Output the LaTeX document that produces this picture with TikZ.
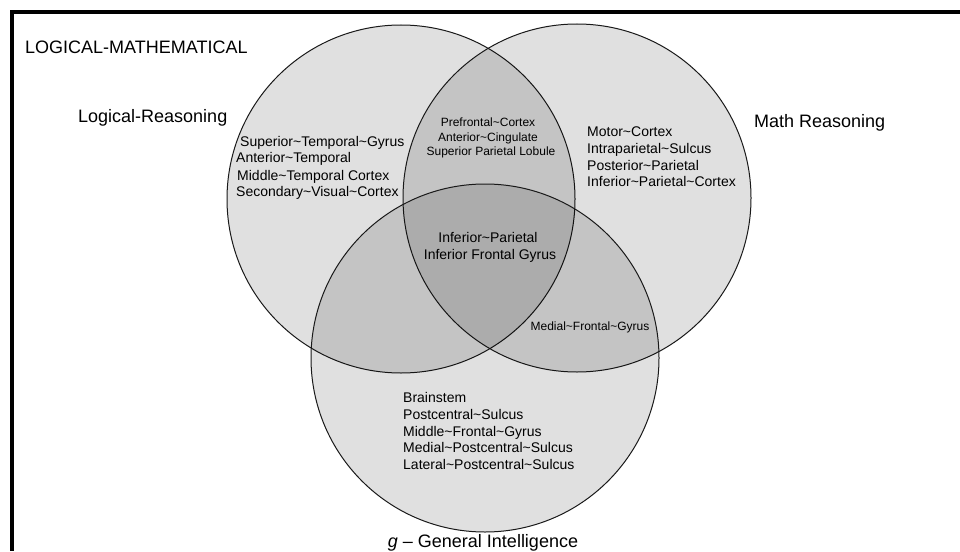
\documentclass[tikz,border=0pt]{standalone}
\usepackage{fontspec}
\setmainfont{Liberation Sans}
\newcommand{\tildech}{\textasciitilde}
\begin{document}
\begin{tikzpicture}[x=1pt,y=-1pt,
  venn/.style={circle,draw=black!90,line width=1pt,fill=black,fill opacity=0.12,
    minimum size=348pt,inner sep=0pt},
  big/.style={font=\fontsize{18}{21}\selectfont,inner sep=0pt},
  mid/.style={font=\fontsize{14}{16}\selectfont,inner sep=0pt},
  small/.style={font=\fontsize{12}{14}\selectfont,inner sep=0pt},
  frame/.style={line width=4pt}]
\useasboundingbox (0,0) rectangle (960,551);
\fill[white] (0,0) rectangle (960,551);

% outer frame: top and left edges only
\coordinate (ftr) at (960,12);
\coordinate (ftl) at (11.5,12);
\coordinate (fbl) at (11.5,551);
\draw[frame] (ftr) -- (ftl) -- (fbl);

% the three sets
\node[venn] (logic) at (401,199) {};
\node[venn] (math)  at (577,198) {};
\node[venn] (gint)  at (485,358) {};

% titles
\node[big,anchor=base west] (title) at (25,54) {LOGICAL-MATHEMATICAL};
\node[big,anchor=base west] (lrlab) at (78,122) {Logical-Reasoning};
\node[big,anchor=base west] (mrlab) at (754,127) {Math Reasoning};
\node[big,anchor=base] (glab) at (483,547.5) {\textit{g} -- General Intelligence};

% logical reasoning only
\node[mid,anchor=base west] (lr1) at (240,146) {Superior\tildech Temporal\tildech Gyrus};
\node[mid,anchor=base west] (lr2) at (236,162) {Anterior\tildech Temporal};
\node[mid,anchor=base west] (lr3) at (237,180) {Middle\tildech Temporal Cortex};
\node[mid,anchor=base west] (lr4) at (236,196) {Secondary\tildech Visual\tildech Cortex};

% logical and math reasoning
\node[small,anchor=base] (lm1) at (488,126.5) {Prefrontal\tildech Cortex};
\node[small,anchor=base] (lm2) at (488,141) {Anterior\tildech Cingulate};
\node[small,anchor=base] (lm3) at (491,155.5) {Superior Parietal Lobule};

% math reasoning only
\node[mid,anchor=base west] (mr1) at (587,136) {Motor\tildech Cortex};
\node[mid,anchor=base west] (mr2) at (587,153) {Intraparietal\tildech Sulcus};
\node[mid,anchor=base west] (mr3) at (587,170) {Posterior\tildech Parietal};
\node[mid,anchor=base west] (mr4) at (587,186) {Inferior\tildech Parietal\tildech Cortex};

% all three
\node[mid,anchor=base] (all1) at (488,242) {Inferior\tildech Parietal};
\node[mid,anchor=base] (all2) at (490,259) {Inferior Frontal Gyrus};

% math reasoning and g
\node[small,anchor=base] (mg1) at (590,330.5) {Medial\tildech Frontal\tildech Gyrus};

% g only
\node[mid,anchor=base west] (g1) at (403,402) {Brainstem};
\node[mid,anchor=base west] (g2) at (403,419) {Postcentral\tildech Sulcus};
\node[mid,anchor=base west] (g3) at (403,436) {Middle\tildech Frontal\tildech Gyrus};
\node[mid,anchor=base west] (g4) at (403,452) {Medial\tildech Postcentral\tildech Sulcus};
\node[mid,anchor=base west] (g5) at (403,469) {Lateral\tildech Postcentral\tildech Sulcus};
\end{tikzpicture}
\end{document}
